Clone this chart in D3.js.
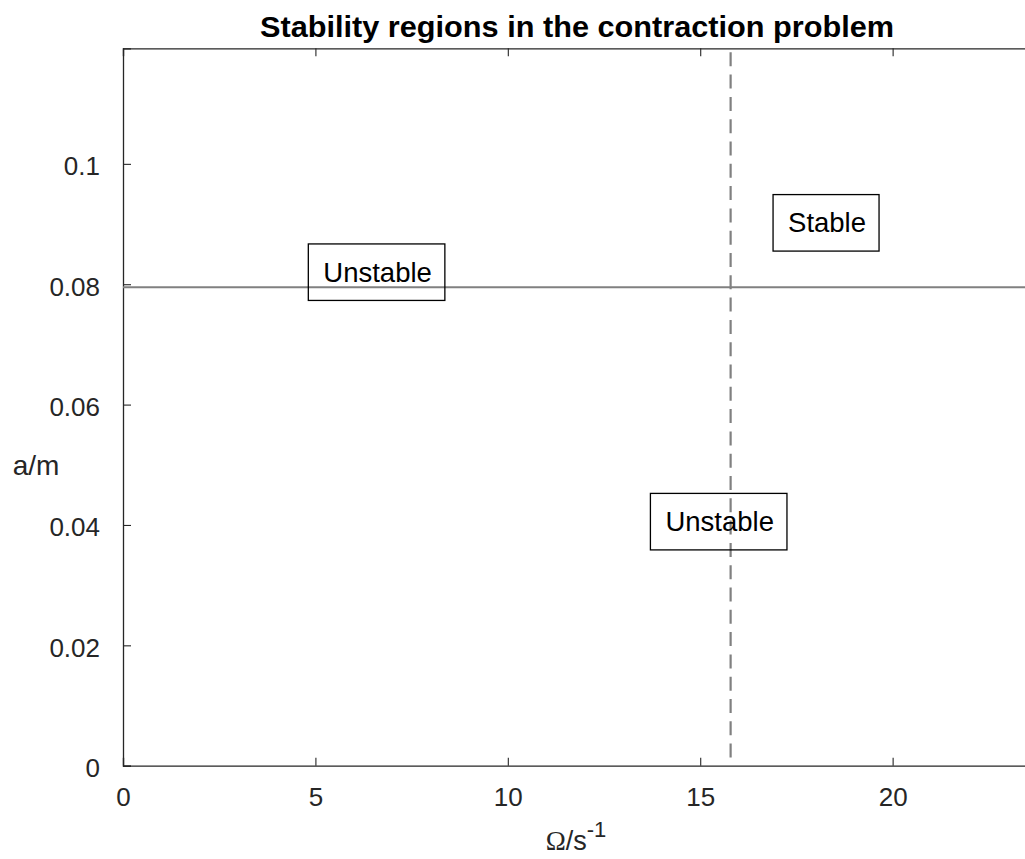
<!DOCTYPE html>
<html>
<head>
<meta charset="utf-8">
<script src="https://cdn.jsdelivr.net/npm/d3@7"></script>
<style>
  html, body { margin: 0; padding: 0; background: #ffffff; overflow: hidden; }
  svg { display: block; }
</style>
</head>
<body>
<div id="chart"></div>
<script>
// ---- data ----
const xTicks = [0, 5, 10, 15, 20];
const yTicks = [0, 0.02, 0.04, 0.06, 0.08, 0.1];
const yTickLabels = ["0", "0.02", "0.04", "0.06", "0.08", "0.1"];
const xDomain = [0, 23.57];
const yDomain = [0, 0.1192];
const horizontalLineY = [0.0795];      // solid boundary a = const
const verticalLineX = [15.79];         // dashed boundary Omega = const
const annotationLabels = ["Unstable", "Unstable", "Stable"];
const annotationX = [6.59, 15.48, 18.27];
const annotationY = [0.0820, 0.04055, 0.0902];
const titleText = "Stability regions in the contraction problem";

// ---- layout ----
const W = 1025, H = 859;
const margin = { left: 123, top: 48.3, right: -5, bottom: 93.3 };
const plotW = W - margin.left - margin.right;
const plotH = H - margin.top - margin.bottom;
const axisColor = "#262626";

const svg = d3.select("#chart").append("svg")
  .attr("width", W).attr("height", H);

const x = d3.scaleLinear().domain(xDomain).range([margin.left, margin.left + plotW]);
const y = d3.scaleLinear().domain(yDomain).range([margin.top + plotH, margin.top]);

const tickFont = "'Liberation Sans', Arial, Helvetica, sans-serif";

// axes
const xAxisB = d3.axisBottom(x).tickValues(xTicks).tickSize(-8).tickPadding(22)
  .tickFormat(d3.format("d"));
const xAxisT = d3.axisTop(x).tickValues(xTicks).tickSize(-8).tickFormat("");
const yAxisL = d3.axisLeft(y).tickValues(yTicks).tickSize(-8).tickPadding(23)
  .tickFormat((d, i) => yTickLabels[i]);

function styleAxis(g) {
  g.select(".domain").attr("stroke", axisColor).attr("stroke-width", 1.3);
  g.selectAll(".tick line").attr("stroke", axisColor).attr("stroke-width", 1.1);
  g.selectAll(".tick text").attr("fill", axisColor)
    .style("font-family", tickFont).style("font-size", "26px");
}

const gxb = svg.append("g").attr("transform", `translate(0,${y(0)})`).call(xAxisB).call(styleAxis);
gxb.selectAll(".tick text").attr("dy", "0.71em");
const gxt = svg.append("g").attr("transform", `translate(0,${margin.top})`).call(xAxisT).call(styleAxis);
const gyl = svg.append("g").attr("transform", `translate(${margin.left},0)`).call(yAxisL).call(styleAxis);
gyl.selectAll(".tick text").attr("dy", "0.42em");
// right spine (outside view, as in reference)
svg.append("line")
  .attr("x1", x(xDomain[1])).attr("x2", x(xDomain[1]))
  .attr("y1", y(yDomain[0])).attr("y2", y(yDomain[1]))
  .attr("stroke", axisColor).attr("stroke-width", 1.3);

// boundary lines
svg.selectAll(".hline").data(horizontalLineY).enter().append("line")
  .attr("class", "hline")
  .attr("x1", x(xDomain[0])).attr("x2", x(xDomain[1]))
  .attr("y1", d => y(d)).attr("y2", d => y(d))
  .attr("stroke", "#808080").attr("stroke-width", 2);

svg.selectAll(".vline").data(verticalLineX).enter().append("line")
  .attr("class", "vline")
  .attr("x1", d => x(d)).attr("x2", d => x(d))
  .attr("y1", y(yDomain[1])).attr("y2", y(yDomain[0]))
  .attr("stroke", "#808080").attr("stroke-width", 2.2)
  .attr("stroke-dasharray", "14,8.3")
  .attr("stroke-dashoffset", -4);

// annotations with boxes
const annFont = "'Liberation Sans', Arial, Helvetica, sans-serif";
annotationLabels.forEach((lab, i) => {
  const cx = x(annotationX[i]), cy = y(annotationY[i]);
  const g = svg.append("g");
  const rect = g.append("rect");
  const t = g.append("text")
    .attr("x", cx + 1).attr("y", cy + 9.5)
    .attr("text-anchor", "middle")
    .style("font-family", annFont).style("font-size", "27.5px")
    .attr("fill", "#000")
    .text(lab);
  const bb = t.node().getBBox();
  const bw = bb.width + 28, bh = 56.5;
  rect.attr("x", cx - bw / 2).attr("y", cy - bh / 2)
    .attr("width", bw).attr("height", bh)
    .attr("fill", "none").attr("stroke", "#000").attr("stroke-width", 1.3);
});

// title
svg.append("text")
  .attr("x", 577).attr("y", 36.5)
  .attr("text-anchor", "middle")
  .style("font-family", annFont).style("font-weight", "bold").style("font-size", "29.5px")
  .attr("fill", "#000")
  .attr("textLength", 634).attr("lengthAdjust", "spacingAndGlyphs")
  .text(titleText);

// x label: Ω/s^-1
const xl = svg.append("text")
  .attr("x", 576).attr("y", 850)
  .attr("text-anchor", "middle")
  .attr("fill", axisColor)
  .style("font-family", annFont).style("font-size", "27px");
xl.append("tspan").style("font-family", "'Liberation Serif', 'Times New Roman', serif").text("Ω");
xl.append("tspan").text("/s");
xl.append("tspan").attr("dy", -13).style("font-size", "22px").text("-1");

// y label
svg.append("text")
  .attr("x", 36).attr("y", 475)
  .attr("text-anchor", "middle")
  .attr("fill", axisColor)
  .style("font-family", annFont).style("font-size", "28px")
  .text("a/m");
</script>
</body>
</html>
